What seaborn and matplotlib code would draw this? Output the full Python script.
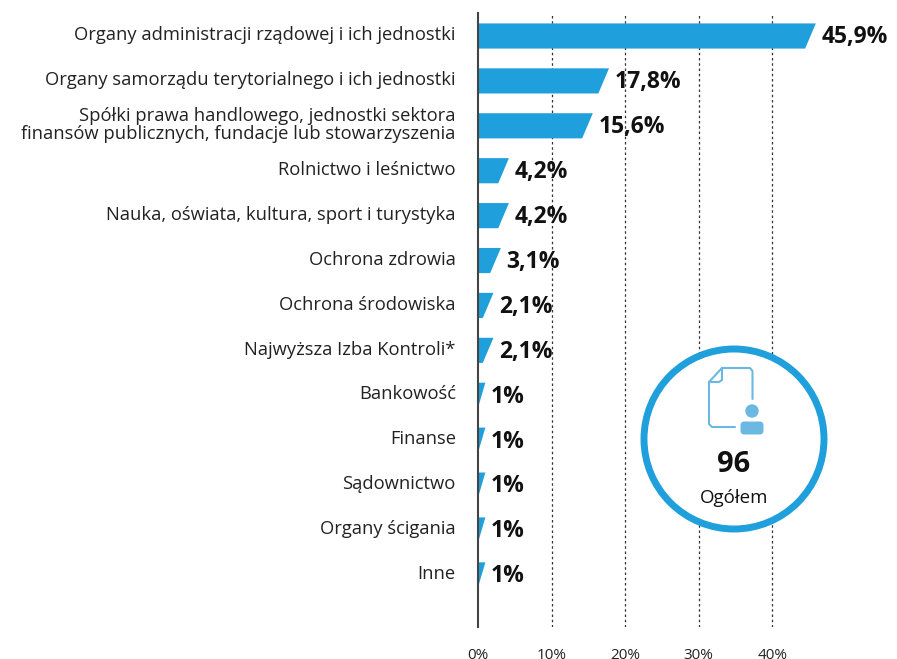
import pandas as pd
import matplotlib.pyplot as plt
import seaborn as sns
from matplotlib.patches import Polygon, Circle, FancyBboxPatch
from matplotlib.transforms import ScaledTranslation

categories = [
    'Organy administracji rządowej i ich jednostki',
    'Organy samorządu terytorialnego i ich jednostki',
    'Spółki prawa handlowego, jednostki sektora\nfinansów publicznych, fundacje lub stowarzyszenia',
    'Rolnictwo i leśnictwo',
    'Nauka, oświata, kultura, sport i turystyka',
    'Ochrona zdrowia',
    'Ochrona środowiska',
    'Najwyższa Izba Kontroli*',
    'Bankowość',
    'Finanse',
    'Sądownictwo',
    'Organy ścigania',
    'Inne',
]
values = [45.9, 17.8, 15.6, 4.2, 4.2, 3.1, 2.1, 2.1, 1, 1, 1, 1, 1]
value_labels = ['45,9%', '17,8%', '15,6%', '4,2%', '4,2%', '3,1%', '2,1%', '2,1%',
                '1%', '1%', '1%', '1%', '1%']
x_ticks = [0, 10, 20, 30, 40]
x_tick_labels = ['0%', '10%', '20%', '30%', '40%']
total_value = '96'
total_label = 'Ogółem'

BLUE = '#1f9fdb'
LIGHT_BLUE = '#6bb8e3'
W, H = 897, 659
FONT = 'Open Sans'

sns.set_theme(style='white')
plt.rcParams['font.family'] = [FONT, 'DejaVu Sans']

df = pd.DataFrame({'category': categories, 'value': values})

fig = plt.figure(figsize=(W / 100, H / 100), dpi=100)
# axes box in pixels: x from 478 to the right edge, y from 13 to 627
ax = fig.add_axes([478 / W, 1 - 627 / H, (W - 478) / W, (627 - 13) / H])
sns.barplot(data=df, x='value', y='category', color=BLUE, saturation=1, width=0.56, ax=ax, zorder=3)

ax.set_xlim(0, (W - 478) / 7.36)
ax.set_ylim(13.16, -0.512)
ax.set_xlabel('')
ax.set_ylabel('')

# slanted bar ends
slant = 1.45
for bar in list(ax.patches):
    x0, y0 = bar.get_x(), bar.get_y()
    w, h = bar.get_width(), bar.get_height()
    ax.add_patch(Polygon([(x0, y0), (x0 + w, y0), (x0 + max(w - slant, 0), y0 + h), (x0, y0 + h)],
                         closed=True, facecolor=BLUE, edgecolor='none', zorder=3))
    bar.remove()

for x in x_ticks[1:]:
    ax.axvline(x, color='#333333', linestyle=(0, (2, 2.2)), linewidth=0.9, zorder=1)

for side in ['top', 'right', 'bottom']:
    ax.spines[side].set_visible(False)
ax.spines['left'].set_color('#444444')
ax.spines['left'].set_linewidth(1.5)
ax.spines['left'].set_zorder(6)

ax.set_xticks(x_ticks)
ax.set_xticklabels(x_tick_labels, fontsize=11, color='#222222')
ax.tick_params(axis='x', length=0, pad=15)
ax.tick_params(axis='y', length=0, pad=16)
shift = ScaledTranslation(0, 2 / 72, fig.dpi_scale_trans)
for lab in ax.get_yticklabels():
    lab.set_fontsize(13.2)
    lab.set_color('#222222')
    lab.set_multialignment('right')
    lab.set_linespacing(1.0)
    lab.set_transform(lab.get_transform() + shift)

for i, (v, lab) in enumerate(zip(values, value_labels)):
    ax.text(v + 0.75, i + 0.03, lab, fontsize=16.5, fontweight='bold', color='#111111',
            va='center', ha='left', zorder=7)

# overlay in pixel coordinates for the total badge
ov = fig.add_axes([0, 0, 1, 1], zorder=5)
ov.set_xlim(0, W)
ov.set_ylim(H, 0)
ov.axis('off')
ov.patch.set_alpha(0)

ov.add_patch(Circle((734, 439), 90, facecolor='white', edgecolor=BLUE, linewidth=5))
ov.plot([752.5, 752.5, 750, 722, 709, 709, 712, 735], [399, 371, 368, 368, 382, 424, 427, 427],
        color=LIGHT_BLUE, linewidth=1.5, solid_joinstyle='round')
ov.plot([722, 722, 719, 709], [368, 380, 382, 382], color=LIGHT_BLUE, linewidth=1.5)
ov.add_patch(Circle((752, 411), 6.7, facecolor=LIGHT_BLUE, edgecolor='none'))
ov.add_patch(FancyBboxPatch((743, 424), 18, 8, boxstyle='round,pad=2.5,rounding_size=4',
                            facecolor=LIGHT_BLUE, edgecolor='none'))
ov.text(734, 464, total_value, fontsize=21, fontweight='bold', color='#111111', ha='center', va='center')
ov.text(734, 498, total_label, fontsize=13.5, color='#111111', ha='center', va='center')

plt.savefig('out.png', dpi=100)
